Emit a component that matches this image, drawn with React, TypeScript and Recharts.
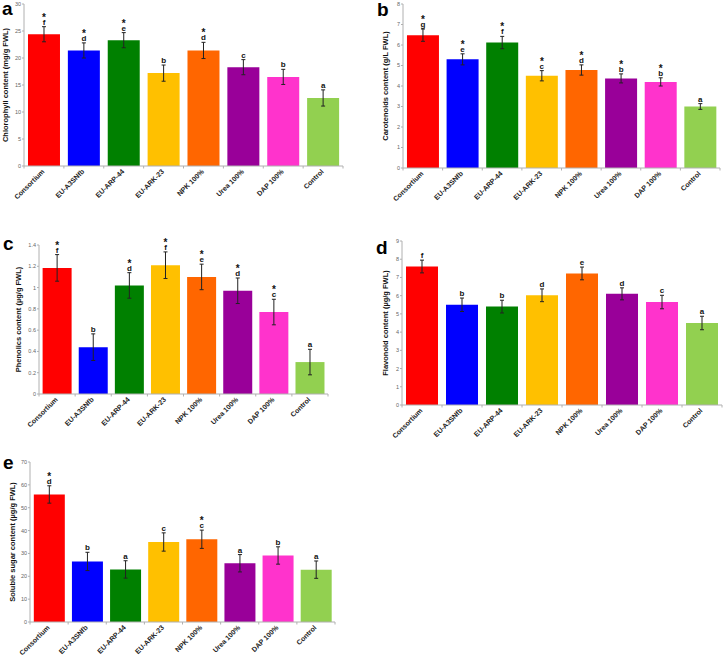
import { Bar, BarChart, Cell, ErrorBar, LabelList, XAxis, YAxis } from 'recharts';

const categories = ['Consortium', 'EU-A3SNfb', 'EU-ARP-44', 'EU-ARK-23', 'NPK 100%', 'Urea 100%', 'DAP 100%', 'Control'];
const barColors = ['#ff0000', '#0000ff', '#008000', '#ffc000', '#ff6600', '#990099', '#ff33cc', '#92d050'];

const chlorophyll = [24.4, 21.4, 23.3, 17.2, 21.4, 18.3, 16.5, 12.6];
const chlorophyllErr = [1.4, 1.4, 1.4, 1.5, 1.5, 1.4, 1.4, 1.5];
const chlorophyllLetters = ['f', 'd', 'e', 'b', 'd', 'c', 'b', 'a'];
const chlorophyllStars = [true, true, true, false, true, false, false, false];
const chlorophyllTicks = [0, 5, 10, 15, 20, 25, 30];

const carotenoids = [6.48, 5.3, 6.12, 4.5, 4.78, 4.37, 4.2, 3.0];
const carotenoidsErr = [0.3, 0.27, 0.3, 0.25, 0.25, 0.22, 0.2, 0.14];
const carotenoidsLetters = ['g', 'e', 'f', 'c', 'd', 'b', 'b', 'a'];
const carotenoidsStars = [true, true, true, true, true, true, true, false];
const carotenoidsTicks = [0, 1, 2, 3, 4, 5, 6, 7, 8];

const phenolics = [1.185, 0.44, 1.02, 1.21, 1.1, 0.97, 0.77, 0.3];
const phenolicsErr = [0.125, 0.125, 0.12, 0.125, 0.12, 0.12, 0.12, 0.12];
const phenolicsLetters = ['f', 'b', 'd', 'f', 'e', 'd', 'c', 'a'];
const phenolicsStars = [true, false, true, true, true, true, true, false];
const phenolicsTicks = [0, 0.2, 0.4, 0.6, 0.8, 1, 1.2, 1.4];

const flavonoid = [7.6, 5.5, 5.4, 6.02, 7.22, 6.1, 5.65, 4.5];
const flavonoidErr = [0.35, 0.37, 0.35, 0.35, 0.35, 0.33, 0.37, 0.37];
const flavonoidLetters = ['f', 'b', 'b', 'd', 'e', 'd', 'c', 'a'];
const flavonoidStars = [false, false, false, false, false, false, false, false];
const flavonoidTicks = [0, 1, 2, 3, 4, 5, 6, 7, 8, 9];

const sugar = [55.8, 26.5, 23, 35, 36.2, 25.7, 29.1, 22.9];
const sugarErr = [3.8, 4, 3.8, 4, 4, 3.8, 3.8, 3.8];
const sugarLetters = ['d', 'b', 'a', 'c', 'c', 'a', 'b', 'a'];
const sugarStars = [true, false, false, false, true, false, false, false];
const sugarTicks = [0, 10, 20, 30, 40, 50, 60, 70];

const font = '"Liberation Sans", Arial, sans-serif';
const axisColor = '#b0b0b0';

interface Row {
	name: string;
	value: number;
	err: number;
	letter: string;
	star: boolean;
}

const buildRows = (values: number[], errs: number[], letters: string[], stars: boolean[]): Row[] =>
	categories.map((name, i) => ({ name, value: values[i], err: errs[i], letter: letters[i], star: stars[i] }));

// rotated category label plus Excel-style tick marks between categories
const CategoryTick = (props: any) => {
	const { x, y, payload, index } = props;
	const half = payload.offset || 0;
	return (
		<g>
			<line x1={x - half} x2={x - half} y1={y} y2={y + 2.5} stroke={axisColor} />
			{index === categories.length - 1 && (
				<line x1={x + half} x2={x + half} y1={y} y2={y + 2.5} stroke={axisColor} />
			)}
			<g transform={`translate(${x + 1},${y + 6})`}>
				<text
					textAnchor='end'
					transform='rotate(-45)'
					fontSize={7}
					fontWeight='bold'
					fill='#222'
					fontFamily={font}
				>
					{payload.value}
				</text>
			</g>
		</g>
	);
};

const markContent = (rows: Row[]) => (props: any) => {
	const { x, y, width, height, index } = props;
	const row = rows[index];
	const perUnit = Math.abs(height) / row.value;
	const top = Math.min(y, y + height) - row.err * perUnit;
	const cx = x + width / 2;
	return (
		<g fontFamily={font} fontWeight='bold' fill='#111'>
			<text x={cx} y={top - 2} textAnchor='middle' fontSize={8}>
				{row.letter}
			</text>
			{row.star && (
				<text x={cx} y={top - 6} textAnchor='middle' fontSize={10}>
					*
				</text>
			)}
		</g>
	);
};

interface PanelProps {
	rows: Row[];
	ticks: number[];
	label: string;
	left: number;
	top: number;
	width: number;
	height: number;
	marginTop: number;
	marginRight: number;
	axisWidth: number;
	xAxisHeight: number;
	labelOffset: number;
}

const Panel: React.FC<PanelProps> = ({
	rows,
	ticks,
	label,
	left,
	top,
	width,
	height,
	marginTop,
	marginRight,
	axisWidth,
	xAxisHeight,
	labelOffset,
}) => (
	<div style={{ position: 'absolute', left, top }}>
		<BarChart
			width={width}
			height={height}
			data={rows}
			margin={{ top: marginTop, right: marginRight, left: 0, bottom: 0 }}
			barCategoryGap='10%'
		>
			<XAxis
				dataKey='name'
				interval={0}
				tickLine={false}
				tickSize={0}
				tickMargin={0}
				height={xAxisHeight}
				stroke={axisColor}
				tick={<CategoryTick />}
			/>
			<YAxis
				width={axisWidth}
				domain={[ticks[0], ticks[ticks.length - 1]]}
				ticks={ticks}
				interval={0}
				tickSize={2}
				tickMargin={1}
				stroke={axisColor}
				tick={{ fontSize: 5.5, fill: '#666', fontFamily: font }}
				label={{
					value: label,
					angle: -90,
					position: 'insideLeft',
					offset: labelOffset,
					style: { textAnchor: 'middle', fontSize: 7.5, fontWeight: 'bold', fill: '#111', fontFamily: font },
				}}
			/>
			<Bar dataKey='value' isAnimationActive={false}>
				{rows.map((r, i) => (
					<Cell key={r.name} fill={barColors[i]} />
				))}
				<ErrorBar dataKey='err' width={2} stroke='#222' strokeWidth={1} direction='y' />
				<LabelList dataKey='letter' content={markContent(rows)} />
			</Bar>
		</BarChart>
	</div>
);

const panelLetters = [
	{ t: 'a', x: 2, y: 14.5 },
	{ t: 'b', x: 377, y: 16 },
	{ t: 'c', x: 3, y: 250 },
	{ t: 'd', x: 376, y: 254 },
	{ t: 'e', x: 3, y: 469 },
];

export default function App() {
	return (
		<div style={{ position: 'absolute', left: 0, top: 0, width: 723, height: 660, background: '#fff', overflow: 'hidden' }}>
			<Panel
				rows={buildRows(chlorophyll, chlorophyllErr, chlorophyllLetters, chlorophyllStars)}
				ticks={chlorophyllTicks}
				label='Chlorophyll content (mg/g FWL)'
				left={0}
				top={0}
				width={350}
				height={215}
				marginTop={4}
				marginRight={7}
				axisWidth={24}
				xAxisHeight={49}
				labelOffset={5}
			/>
			<Panel
				rows={buildRows(carotenoids, carotenoidsErr, carotenoidsLetters, carotenoidsStars)}
				ticks={carotenoidsTicks}
				label='Carotenoids content (g/L FWL)'
				left={360}
				top={0}
				width={363}
				height={215}
				marginTop={4}
				marginRight={3}
				axisWidth={43}
				xAxisHeight={47}
				labelOffset={25}
			/>
			<Panel
				rows={buildRows(phenolics, phenolicsErr, phenolicsLetters, phenolicsStars)}
				ticks={phenolicsTicks}
				label='Phenolics content (µg/g FWL)'
				left={0}
				top={220}
				width={335}
				height={215}
				marginTop={25}
				marginRight={7}
				axisWidth={39}
				xAxisHeight={41}
				labelOffset={18}
			/>
			<Panel
				rows={buildRows(flavonoid, flavonoidErr, flavonoidLetters, flavonoidStars)}
				ticks={flavonoidTicks}
				label='Flavonoid content (µg/g FWL)'
				left={360}
				top={220}
				width={363}
				height={225}
				marginTop={21}
				marginRight={1}
				axisWidth={42}
				xAxisHeight={40}
				labelOffset={25}
			/>
			<Panel
				rows={buildRows(sugar, sugarErr, sugarLetters, sugarStars)}
				ticks={sugarTicks}
				label='Soluble sugar content (µg/g FWL)'
				left={0}
				top={440}
				width={340}
				height={220}
				marginTop={22}
				marginRight={5}
				axisWidth={30}
				xAxisHeight={38}
				labelOffset={12}
			/>
			<svg width={723} height={660} style={{ position: 'absolute', left: 0, top: 0, pointerEvents: 'none' }}>
				{panelLetters.map((p) => (
					<text key={p.t} x={p.x} y={p.y} fontSize={19} fontWeight='bold' fontFamily={font} fill='#000'>
						{p.t}
					</text>
				))}
			</svg>
		</div>
	);
}
